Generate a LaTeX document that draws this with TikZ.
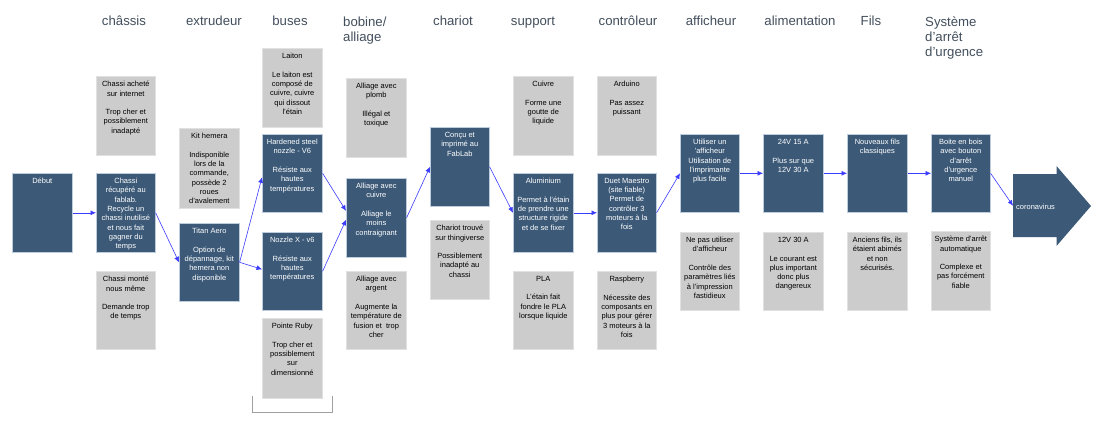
\documentclass[tikz,border=0pt]{standalone}
\usepackage{fontspec}
\setmainfont{Liberation Sans}
\usetikzlibrary{arrows.meta}
\definecolor{bl}{HTML}{3C5A78}
\definecolor{gr}{HTML}{CCCCCC}
\definecolor{hd}{HTML}{434F5D}
\definecolor{ar}{HTML}{3C3CFF}
\definecolor{blborder}{HTML}{BECDDE}
\definecolor{grborder}{HTML}{E1E1E1}
\definecolor{brk}{HTML}{A0A0A0}
\colorlet{bboxtxt}{white}
\colorlet{gboxtxt}{black}
\newcommand\bx[7]{%
  \node[#6, anchor=north west, inner sep=0pt, minimum width=#4pt-#2pt, minimum height=#5pt-#3pt] (#1) at (#2,#3) {};
  \node[anchor=north, inner sep=0pt, align=center, font=\fontsize{7.5}{9.3}\selectfont, text=#6txt] (#1t) at ([yshift=-5pt]#1.north) {#7};
}
\begin{document}
\begin{tikzpicture}[x=1pt,y=-1pt,
  bbox/.style={fill=bl, draw=blborder, line width=0.6pt},
  gbox/.style={fill=gr, draw=grborder, line width=0.6pt},
  heading/.style={font=\fontsize{13.2}{15}\selectfont, text=hd, inner sep=0pt},
  conn/.style={draw=ar, line width=0.6pt, -{Latex[length=5.5pt,width=5pt]}}]
\fill[white] (0,0) rectangle (1104,428);
\useasboundingbox (0,0) rectangle (1104,428);
% headings
\node[heading, anchor=base] (h1) at (124,26) {châssis};
\node[heading, anchor=base] (h2) at (214,26) {extrudeur};
\node[heading, anchor=base] (h3) at (290,26) {buses};
\node[heading, anchor=north west, align=left] (h4) at (343,16.4) {bobine/\\alliage};
\node[heading, anchor=base] (h5) at (453,26) {chariot};
\node[heading, anchor=base] (h6) at (533,26) {support};
\node[heading, anchor=base] (h7) at (628,26) {contrôleur};
\node[heading, anchor=base] (h8) at (711,26) {afficheur};
\node[heading, anchor=base] (h9) at (800,26) {alimentation};
\node[heading, anchor=base] (h10) at (871,26) {Fils};
\node[heading, anchor=north west, align=left] (h11) at (925,16.4) {Système\\d'arrêt\\d'urgence};
% boxes
\bx{debut}{12}{173}{72}{252}{bbox}{Début}
\bx{ch1}{96}{76}{155}{155}{gbox}{Chassi acheté\\sur internet\\[9.3pt]Trop cher et\\possiblement\\inadapté}
\bx{ch2}{96}{173}{155}{252}{bbox}{Chassi\\récupéré au\\fablab.\\Recycle un\\chassi inutilisé\\et nous fait\\gagner du\\temps}
\bx{ch3}{96}{271}{155}{349}{gbox}{Chassi monté\\nous même\\[9.3pt]Demande trop\\de temps}
\bx{ex1}{179}{128}{239}{208}{gbox}{Kit hemera\\[9.3pt]Indisponible\\lors de la\\commande,\\possède 2\\roues\\d'avalement}
\bx{ex2}{179}{223}{239}{301}{bbox}{Titan Aero\\[9.3pt]Option de\\dépannage, kit\\hemera non\\disponible}
\bx{bu1}{262}{48}{322}{127}{gbox}{Laiton\\[9.3pt]Le laiton est\\composé de\\cuivre, cuivre\\qui dissout\\l'étain}
\bx{bu2}{262}{134}{322}{212}{bbox}{Hardened steel\\nozzle - V6\\[9.3pt]Résiste aux\\hautes\\températures}
\bx{bu3}{262}{232}{322}{310}{bbox}{Nozzle X - v6\\[9.3pt]Résiste aux\\hautes\\températures}
\bx{bu4}{262}{318}{322}{398}{gbox}{Pointe Ruby\\[9.3pt]Trop cher et\\possiblement\\sur\\dimensionné}
\bx{al1}{346}{78}{406}{157}{gbox}{Alliage avec\\plomb\\[9.3pt]Illégal et\\toxique}
\bx{al2}{346}{178}{406}{257}{bbox}{Alliage avec\\cuivre\\[9.3pt]Alliage le\\moins\\contraignant}
\bx{al3}{346}{271}{406}{349}{gbox}{Alliage avec\\argent\\[9.3pt]Augmente la\\température de\\fusion et~ trop\\cher}
\bx{ca1}{430}{127}{489}{206}{bbox}{Conçu et\\imprimé au\\FabLab}
\bx{ca2}{430}{220}{489}{299}{gbox}{Chariot trouvé\\sur thingiverse\\[9.3pt]Possiblement\\inadapté au\\chassi}
\bx{su1}{513}{76}{573}{155}{gbox}{Cuivre\\[9.3pt]Forme une\\goutte de\\liquide}
\bx{su2}{513}{173}{573}{252}{bbox}{Aluminium\\[9.3pt]Permet à l'étain\\de prendre une\\structure rigide\\et de se fixer}
\bx{su3}{513}{271}{573}{349}{gbox}{PLA\\[9.3pt]L'étain fait\\fondre le PLA\\lorsque liquide}
\bx{co1}{597}{76}{656}{155}{gbox}{Arduino\\[9.3pt]Pas assez\\puissant}
\bx{co2}{597}{173}{656}{252}{bbox}{Duet Maestro\\(site fiable)\\Permet de\\contrôler 3\\moteurs à la\\fois}
\bx{co3}{597}{271}{656}{349}{gbox}{Raspberry\\[9.3pt]Nécessite des\\composants en\\plus pour gérer\\3 moteurs à la\\fois}
\bx{af1}{680}{134}{739}{212}{bbox}{Utiliser un\\'afficheur\\Utilisation de\\l'imprimante\\plus facile}
\bx{af2}{680}{232}{739}{310}{gbox}{Ne pas utiliser\\d'afficheur\\[9.3pt]Contrôle des\\paramètres liés\\à l'impression\\fastidieux}
\bx{ali1}{763}{134}{823}{212}{bbox}{24V 15 A\\[9.3pt]Plus sur que\\12V 30 A}
\bx{ali2}{763}{232}{823}{310}{gbox}{12V 30 A\\[9.3pt]Le courant est\\plus important\\donc plus\\dangereux}
\bx{fi1}{847}{134}{907}{212}{bbox}{Nouveaux fils\\classiques}
\bx{fi2}{847}{232}{907}{310}{gbox}{Anciens fils, ils\\étaient abimés\\et non\\sécurisés.}
\bx{sy1}{931}{134}{990}{212}{bbox}{Boite en bois\\avec bouton\\d'arrêt\\d'urgence\\manuel}
\bx{sy2}{931}{231}{990}{310}{gbox}{Système d'arrêt\\automatique\\[9.3pt]Complexe et\\pas forcément\\fiable}
% final arrow shape
\fill[bl] (1013,174) -- (1056.5,174) -- (1056.5,166) -- (1091,206) -- (1056.5,246) -- (1056.5,237) -- (1013,237) -- cycle;
\node[anchor=north west, inner sep=0pt, minimum width=43pt, minimum height=63pt] (corona) at (1013,174) {};
\node[anchor=west, inner sep=0pt, text=white, font=\fontsize{7.5}{9.3}\selectfont] (coronat) at (1016,207) {coronavirus};
% bracket
\draw[draw=brk, line width=0.9pt] (252,396) -- (252,412) -- (332,412) -- (332,396);
% connectors
\draw[conn] (debut.east) -- (ch2.west);
\draw[conn] (ch2.east) -- (ex2.west);
\draw[conn] (ex2.east) -- ([yshift=-4pt]bu2.west);
\draw[conn] (ex2.east) -- ([yshift=2pt]bu3.west);
\draw[conn] (bu2.east) -- ([yshift=7pt]al2.west);
\draw[conn] (bu3.east) -- ([yshift=-2pt]al2.west);
\draw[conn] (al2.east) -- (ca1.west);
\draw[conn] (ca1.east) -- (su2.west);
\draw[conn] (su2.east) -- (co2.west);
\draw[conn] (co2.east) -- (af1.west);
\draw[conn] (af1.east) -- (ali1.west);
\draw[conn] (ali1.east) -- (fi1.west);
\draw[conn] (fi1.east) -- (sy1.west);
\draw[conn] (sy1.east) -- (corona.west);
\end{tikzpicture}
\end{document}
